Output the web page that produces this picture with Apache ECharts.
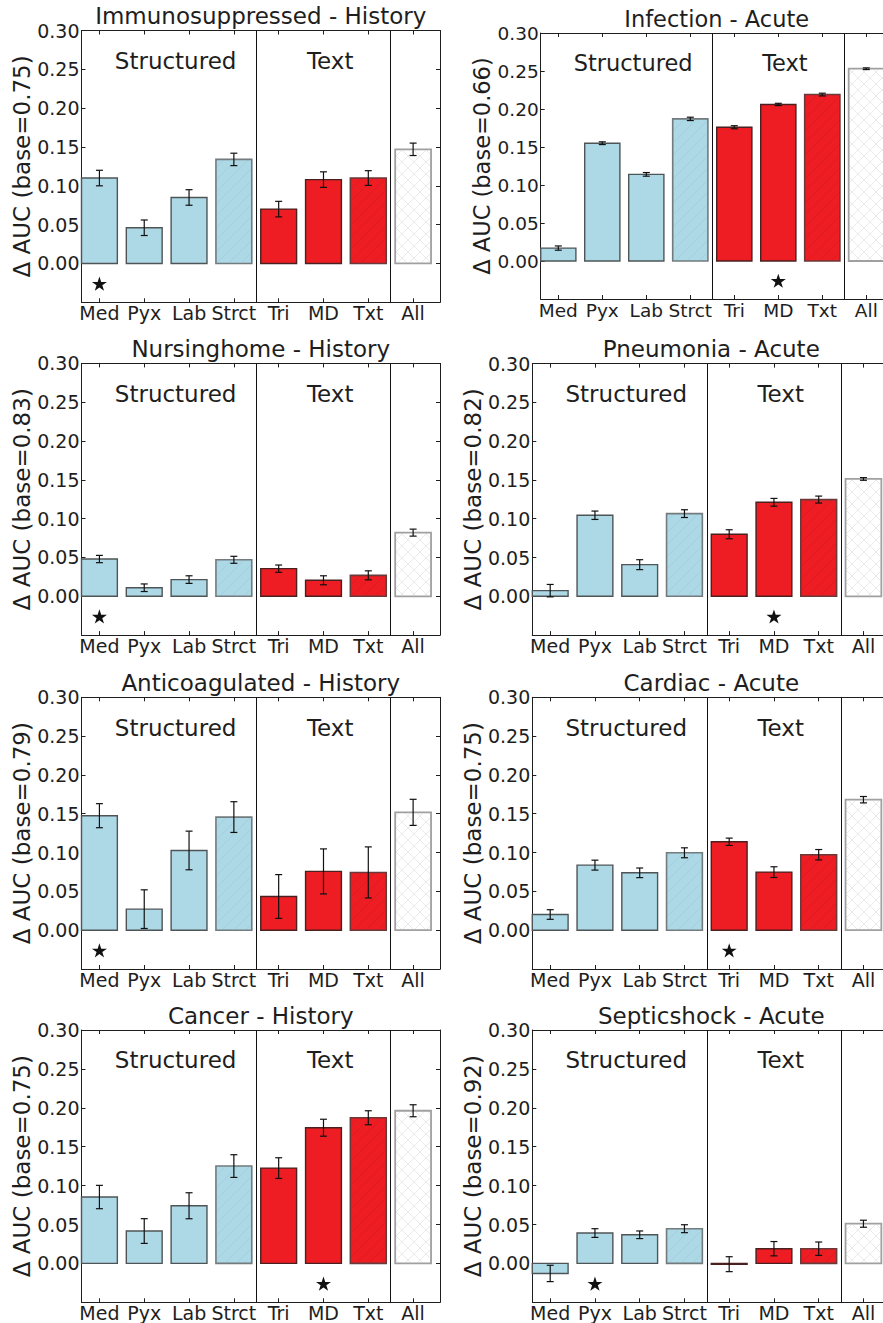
<!DOCTYPE html>
<html lang="en">
<head>
    <meta charset="UTF-8">
    <script src="https://cdn.jsdelivr.net/npm/echarts@6/dist/echarts.min.js"></script>
    <title>Delta AUC</title>
    <style>
        html, body { margin: 0; padding: 0; background: #fff; }
    </style>
</head>
<body>

<div id="main" style="width: 883px; height: 1323px;"></div>

<script>
    // categories on the x axis
    var categories = ['Med', 'Pyx', 'Lab', 'Strct', 'Tri', 'MD', 'Txt', 'All'];
    var groupNames = ['Structured', 'Text'];
    var titles = ['Immunosuppressed - History', 'Infection - Acute', 'Nursinghome - History', 'Pneumonia - Acute',
        'Anticoagulated - History', 'Cardiac - Acute', 'Cancer - History', 'Septicshock - Acute'];
    var baseAuc = ['0.75', '0.66', '0.83', '0.82', '0.79', '0.75', '0.75', '0.92'];

    // delta AUC and error half-widths
    var immunoVal = [0.110, 0.046, 0.085, 0.134, 0.070, 0.108, 0.110, 0.147];
    var immunoErr = [0.010, 0.010, 0.010, 0.008, 0.010, 0.010, 0.0095, 0.008];
    var infectVal = [0.017, 0.155, 0.114, 0.187, 0.176, 0.206, 0.219, 0.253];
    var infectErr = [0.0028, 0.0018, 0.0024, 0.0022, 0.002, 0.0015, 0.0018, 0.0011];
    var nursingVal = [0.048, 0.011, 0.0215, 0.047, 0.0356, 0.0206, 0.027, 0.082];
    var nursingErr = [0.0047, 0.0049, 0.0049, 0.0045, 0.0047, 0.0058, 0.0058, 0.0045];
    var pneuVal = [0.0073, 0.1045, 0.0408, 0.1066, 0.080, 0.1212, 0.1247, 0.1513];
    var pneuErr = [0.008, 0.0054, 0.0064, 0.005, 0.0058, 0.005, 0.0045, 0.0017];
    var anticoagVal = [0.1475, 0.0271, 0.1027, 0.1457, 0.0434, 0.0757, 0.0744, 0.1518];
    var anticoagErr = [0.0155, 0.0249, 0.0249, 0.0198, 0.0282, 0.029, 0.0329, 0.0168];
    var cardiacVal = [0.0202, 0.0838, 0.0739, 0.0997, 0.1139, 0.0748, 0.0972, 0.1681];
    var cardiacErr = [0.0062, 0.0064, 0.0062, 0.0064, 0.0047, 0.0069, 0.0067, 0.0041];
    var cancerVal = [0.0853, 0.0416, 0.0741, 0.1251, 0.1225, 0.1744, 0.1872, 0.1962];
    var cancerErr = [0.015, 0.0159, 0.0167, 0.0146, 0.0133, 0.0109, 0.009, 0.0077];
    var septicVal = [-0.0129, 0.039, 0.0368, 0.0446, -0.001, 0.0189, 0.0189, 0.051];
    var septicErr = [0.0105, 0.0056, 0.0049, 0.0051, 0.0096, 0.0092, 0.0086, 0.0045];

    // which bar gets the star in each panel
    var starIdx = [0, 5, 0, 5, 0, 4, 5, 1];

    var panelVals = [immunoVal, infectVal, nursingVal, pneuVal, anticoagVal, cardiacVal, cancerVal, septicVal];
    var panelErrs = [immunoErr, infectErr, nursingErr, pneuErr, anticoagErr, cardiacErr, cancerErr, septicErr];

    // plot boxes in px (right column runs off the page)
    var boxes = [
        {l: 81.5, t: 30.5, w: 358.5, h: 271.8, s: 1},
        {l: 540.7, t: 33, w: 352, h: 266, s: 0.98},
        {l: 81.5, t: 363.4, w: 358.5, h: 271.7, s: 1},
        {l: 532.3, t: 363.6, w: 358, h: 271.5, s: 1},
        {l: 81.5, t: 697.3, w: 358.5, h: 271.7, s: 1},
        {l: 532.3, t: 697.3, w: 358, h: 271.7, s: 1},
        {l: 81.5, t: 1030, w: 358.5, h: 272.3, s: 1},
        {l: 532.3, t: 1030, w: 358, h: 272.3, s: 1}
    ];

    var FONT = 'DejaVu Sans';
    var TXT = '#1e1e1e';
    var BLUE = '#ADD8E6';
    var RED = '#EE1D23';

    // per category look: fill, edge, hatch
    var barStyles = [
        {fill: BLUE, stroke: '#4f5557', lw: 1.4, hatch: null},
        {fill: BLUE, stroke: '#4f5557', lw: 1.4, hatch: null},
        {fill: BLUE, stroke: '#4f5557', lw: 1.4, hatch: null},
        {fill: BLUE, stroke: '#737b7e', lw: 1.6, hatch: '/', hc: '#a2cddb'},
        {fill: RED, stroke: '#4a2020', lw: 1.4, hatch: null},
        {fill: RED, stroke: '#4a2020', lw: 1.4, hatch: null},
        {fill: RED, stroke: '#6a3a3a', lw: 1.6, hatch: '/', hc: '#dc1b21'},
        {fill: '#fff', stroke: '#a0a0a0', lw: 1.8, hatch: 'x', hc: '#e4e4e4'}
    ];

    var STAR = 'path://M100,0 L122.45,69.1 L195.1,69.1 L136.3,111.8 L158.8,180.9 L100,138.2 L41.2,180.9 L63.7,111.8 L4.9,69.1 L77.55,69.1 Z';

    function hatchLines(x0, y0, x1, y1, kind, step, color) {
        var out = [];
        var c, xa, xb;
        if (kind === '/' || kind === 'x') {
            for (c = Math.ceil((x0 + y0) / step) * step; c <= x1 + y1; c += step) {
                xa = Math.max(x0, c - y1);
                xb = Math.min(x1, c - y0);
                if (xb > xa) out.push({type: 'line', shape: {x1: xa, y1: c - xa, x2: xb, y2: c - xb},
                    style: {stroke: color, lineWidth: 0.8}});
            }
        }
        if (kind === 'x') {
            for (c = Math.ceil((x0 - y1) / step) * step; c <= x1 - y0; c += step) {
                xa = Math.max(x0, c + y0);
                xb = Math.min(x1, c + y1);
                if (xb > xa) out.push({type: 'line', shape: {x1: xa, y1: xa - c, x2: xb, y2: xb - c},
                    style: {stroke: color, lineWidth: 0.8}});
            }
        }
        return out;
    }

    function renderBar(params, api) {
        var i = params.dataIndex;
        var x = api.value(0), v = api.value(1), e = api.value(2);
        var a = api.coord([x - 0.4, 0]);
        var b = api.coord([x + 0.4, v]);
        var x0 = a[0], x1 = b[0];
        var y0 = Math.min(a[1], b[1]), y1 = Math.max(a[1], b[1]);
        if (y1 - y0 < 1) y1 = y0 + 1;
        var st = barStyles[i];
        var kids = [{type: 'rect', shape: {x: x0, y: y0, width: x1 - x0, height: y1 - y0},
            style: {fill: st.fill, stroke: null}}];
        if (st.hatch) kids = kids.concat(hatchLines(x0 + 1, y0 + 1, x1 - 1, y1 - 1, st.hatch, 12, st.hc));
        kids.push({type: 'rect', shape: {x: x0, y: y0, width: x1 - x0, height: y1 - y0},
            style: {fill: null, stroke: st.stroke, lineWidth: st.lw}});
        // error bar
        var lo = api.coord([x, v - e]), hi = api.coord([x, v + e]);
        var es = {stroke: '#111', lineWidth: 1.2};
        kids.push({type: 'line', shape: {x1: lo[0], y1: lo[1], x2: hi[0], y2: hi[1]}, style: es});
        kids.push({type: 'line', shape: {x1: lo[0] - 3.5, y1: lo[1], x2: lo[0] + 3.5, y2: lo[1]}, style: es});
        kids.push({type: 'line', shape: {x1: hi[0] - 3.5, y1: hi[1], x2: hi[0] + 3.5, y2: hi[1]}, style: es});
        return {type: 'group', children: kids};
    }

    function makeGroupLabel(size) {
        return function (params, api) {
            var pt = api.coord([api.value(0), api.value(1)]);
            return {
                type: 'text', x: pt[0], y: pt[1],
                style: {text: groupNames[params.dataIndex], x: 0, y: 0, align: 'center', verticalAlign: 'middle',
                    fill: TXT, font: size + 'px "' + FONT + '"'}
            };
        };
    }

    var grids = [], xAxes = [], yAxes = [], series = [], titleList = [];
    var tickPos = [0, 1, 2, 3, 4, 5, 6, 7];

    for (var p = 0; p < 8; p++) {
        var bx = boxes[p];
        var big = Math.round(23 * bx.s * 2) / 2, small = Math.round(19 * bx.s * 2) / 2;
        grids.push({left: bx.l, top: bx.t, width: bx.w, height: bx.h, containLabel: false, outerBoundsMode: 'none'});

        titleList.push({
            text: titles[p], left: bx.l + bx.w / 2, top: bx.t - 26, textAlign: 'center', padding: 0,
            textStyle: {fontSize: big, fontWeight: 'normal', fontFamily: FONT, color: TXT}
        });

        var xBase = {
            type: 'value', gridIndex: p, min: -0.4, max: 7.6,
            axisLine: {show: true, onZero: false, lineStyle: {color: TXT, width: 1}},
            axisTick: {show: true, inside: true, length: 4, customValues: tickPos, lineStyle: {color: TXT}},
            splitLine: {show: false}
        };
        xAxes.push(Object.assign({}, xBase, {
            position: 'bottom',
            axisLabel: {show: true, customValues: tickPos, margin: 2, fontSize: small, lineHeight: 18,
                fontFamily: FONT, color: TXT,
                formatter: function (v) { return categories[Math.round(v)]; }}
        }));
        xAxes.push(Object.assign({}, xBase, {position: 'top', axisLabel: {show: false}}));

        var yBase = {
            type: 'value', gridIndex: p, min: -0.05, max: 0.30, interval: 0.05,
            axisLine: {show: true, onZero: false, lineStyle: {color: TXT, width: 1}},
            axisTick: {show: true, inside: true, length: 4, lineStyle: {color: TXT}},
            splitLine: {show: false}
        };
        yAxes.push(Object.assign({}, yBase, {
            position: 'left',
            name: '\u0394 AUC (base=' + baseAuc[p] + ')', nameLocation: 'middle', nameGap: 46,
            nameTextStyle: {fontSize: big, fontFamily: FONT, color: TXT},
            axisLabel: {show: true, margin: 2, fontSize: small, fontFamily: FONT, color: TXT,
                formatter: function (v) { return v < -0.001 ? '' : v.toFixed(2); }}
        }));
        yAxes.push(Object.assign({}, yBase, {position: 'right', axisLabel: {show: false}}));

        var vals = panelVals[p], errs = panelErrs[p];
        series.push({
            type: 'custom', xAxisIndex: 2 * p, yAxisIndex: 2 * p,
            renderItem: renderBar,
            encode: {x: 0, y: 1},
            data: vals.map(function (v, k) { return [k, v, errs[k]]; }),
            z: 2
        });
        series.push({
            type: 'scatter', xAxisIndex: 2 * p, yAxisIndex: 2 * p,
            symbol: STAR, symbolSize: [15, 14.2], itemStyle: {color: '#111', opacity: 1},
            data: [[starIdx[p], -0.026]],
            markLine: {
                silent: true, symbol: 'none', label: {show: false},
                lineStyle: {color: '#111', width: 1, type: 'solid'},
                data: [{xAxis: 3.5}, {xAxis: 6.5}]
            },
            z: 3
        });
        series.push({
            type: 'custom', xAxisIndex: 2 * p, yAxisIndex: 2 * p,
            renderItem: makeGroupLabel(big),
            data: [[1.7, 0.261], [5.15, 0.261]],
            z: 4
        });
    }

    var myChart = echarts.init(document.getElementById('main'), null, {renderer: 'svg'});
    myChart.setOption({
        animation: false,
        backgroundColor: '#fff',
        title: titleList,
        grid: grids,
        xAxis: xAxes,
        yAxis: yAxes,
        series: series
    });
</script>

</body>
</html>
